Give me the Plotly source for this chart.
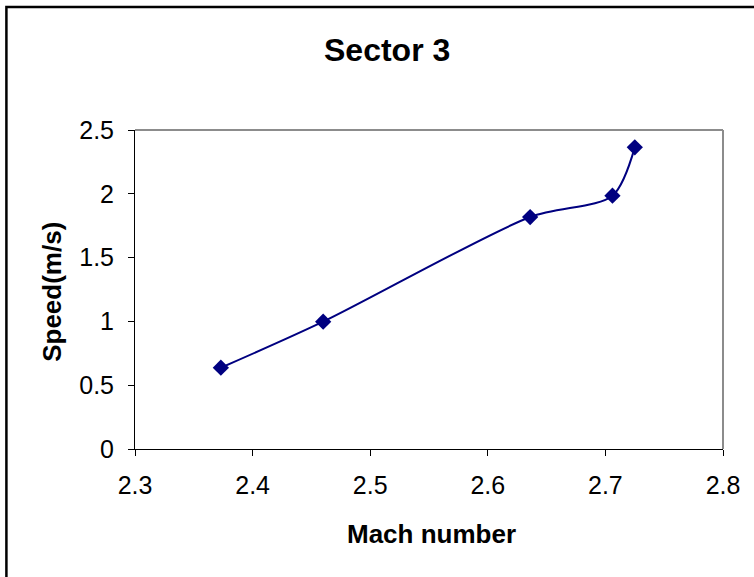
import plotly.graph_objects as go

# Sector 3 measurements
mach = [2.373, 2.460, 2.636, 2.706, 2.725]
speed = [0.637, 0.998, 1.818, 1.985, 2.364]

x_ticks = [2.3, 2.4, 2.5, 2.6, 2.7, 2.8]
y_ticks = [0, 0.5, 1, 1.5, 2, 2.5]

navy = "#000080"
font_family = "Liberation Sans, Arial, sans-serif"

fig = go.Figure()
fig.add_trace(go.Scatter(
    x=mach, y=speed,
    mode="lines+markers",
    line=dict(color=navy, width=2, shape="spline", smoothing=0.8),
    marker=dict(symbol="diamond", size=12.5, color=navy),
    showlegend=False,
))

axis_common = dict(
    showgrid=False, zeroline=False,
    showline=True, linecolor="#000000", linewidth=1,
    ticks="outside", ticklen=6, tickcolor="#000000", tickwidth=1,
    tickfont=dict(family=font_family, size=25, color="#000000"),
)

fig.update_xaxes(range=[2.3, 2.8], tickvals=x_ticks,
                 ticktext=[str(v) for v in x_ticks],
                 ticklabelstandoff=8, **axis_common)
fig.update_yaxes(range=[0, 2.5], tickvals=y_ticks,
                 ticktext=[f"{v:g}" for v in y_ticks],
                 ticklabelstandoff=9, **axis_common)

# Gray plot-area frame on top and right, and the black outer chart frame
fig.add_shape(type="line", xref="paper", yref="paper", x0=0, x1=1, y0=1, y1=1,
              line=dict(color="#8c8c8c", width=2))
fig.add_shape(type="line", xref="paper", yref="paper", x0=1, x1=1, y0=0, y1=1,
              line=dict(color="#8c8c8c", width=2))
fig.add_shape(type="rect", xref="paper", yref="paper",
              x0=-0.2187, x1=1.06, y0=-0.42, y1=1.3856,
              line=dict(color="#000000", width=2.5))

fig.add_annotation(text="<b>Sector 3</b>", xref="paper", yref="paper",
                   x=0.4294, y=1.2504, showarrow=False, xanchor="center", yanchor="middle",
                   font=dict(family=font_family, size=32, color="#000000"))
fig.add_annotation(text="<b>Mach number</b>", xref="paper", yref="paper",
                   x=0.5043, y=-0.265, showarrow=False, xanchor="center", yanchor="middle",
                   font=dict(family=font_family, size=26, color="#000000"))
fig.add_annotation(text="<b>Speed(m/s)</b>", xref="paper", yref="paper",
                   x=-0.141, y=0.493, showarrow=False, xanchor="center", yanchor="middle",
                   textangle=-90,
                   font=dict(family=font_family, size=26, color="#000000"))

fig.update_layout(
    width=754, height=577,
    margin=dict(l=135, r=31, t=130, b=128),
    paper_bgcolor="#ffffff", plot_bgcolor="#ffffff",
)

fig.write_html("out.html")
